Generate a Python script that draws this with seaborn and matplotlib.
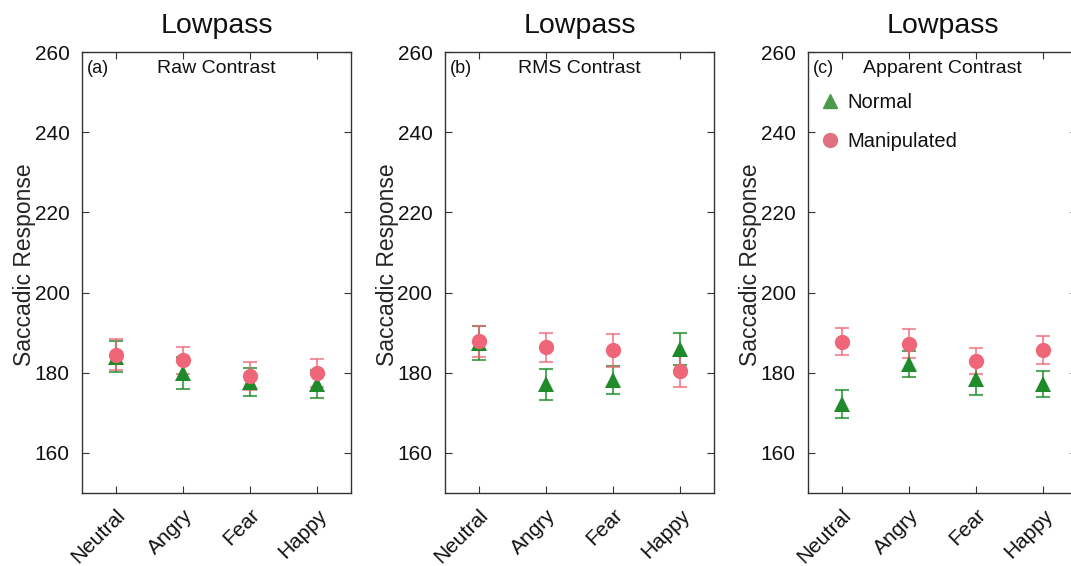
import numpy as np
import pandas as pd
import seaborn as sns
import matplotlib.pyplot as plt
from matplotlib.lines import Line2D

sns.set_style("ticks")
plt.rcParams.update({"font.family": ["Liberation Sans", "DejaVu Sans"],
                     "axes.edgecolor": "#333333",
                     "axes.linewidth": 1.0,
                     "text.color": "#111111",
                     "xtick.labelcolor": "#111111",
                     "ytick.labelcolor": "#111111"})

emotions = ["Neutral", "Angry", "Fear", "Happy"]
titles = ["Lowpass", "Lowpass", "Lowpass"]
panel_tags = ["(a)", "(b)", "(c)"]
panel_names = ["Raw Contrast", "RMS Contrast", "Apparent Contrast"]

# means and error bar half-widths
normal_mean = [[184.0, 180.0, 177.6, 177.2],
               [187.4, 177.1, 178.2, 185.9],
               [172.2, 182.2, 178.4, 177.2]]
normal_err = [[3.8, 4.0, 3.5, 3.6],
              [4.3, 3.9, 3.5, 3.9],
              [3.4, 3.2, 4.0, 3.3]]
manip_mean = [[184.5, 183.1, 179.2, 179.9],
              [187.8, 186.3, 185.6, 180.4],
              [187.7, 187.2, 183.0, 185.7]]
manip_err = [[3.9, 3.4, 3.4, 3.4],
             [3.9, 3.6, 4.1, 4.0],
             [3.4, 3.6, 3.2, 3.5]]

green = "#1f8a2a"
pink = "#ee6677"

fig = plt.figure(figsize=(10.71, 5.66), dpi=100)
lefts = [82, 445, 808]
axes = [fig.add_axes([l / 1071, 73 / 566, 269 / 1071, 441 / 566]) for l in lefts]

for i, ax in enumerate(axes):
    df = pd.DataFrame({
        "emotion": emotions * 2,
        "rt": normal_mean[i] + manip_mean[i],
        "cond": ["Normal"] * 4 + ["Manipulated"] * 4,
    })
    x = np.arange(len(emotions))
    ax.errorbar(x, normal_mean[i], yerr=normal_err[i], fmt="none", ecolor=green,
                alpha=0.75, capsize=4.7, elinewidth=1.5, capthick=1.5, zorder=2)
    ax.errorbar(x, manip_mean[i], yerr=manip_err[i], fmt="none", ecolor=pink,
                alpha=0.7, capsize=4.7, elinewidth=1.5, capthick=1.5, zorder=2)
    sns.pointplot(data=df, x="emotion", y="rt", hue="cond", order=emotions,
                  hue_order=["Normal", "Manipulated"], palette=[green, pink],
                  markers=["^", "o"], linestyle="none", errorbar=None,
                  markersize=11, dodge=False, legend=False, ax=ax)
    for ln in ax.lines:
        if ln.get_marker() in ("^", "o"):
            ln.set_zorder(3)
            ln.set_markeredgewidth(0)

    ax.set_xlim(-0.5, 3.5)
    ax.set_ylim(150, 260)
    ax.set_yticks([160, 180, 200, 220, 240, 260])
    ax.set_xlabel("")
    ax.set_ylabel("Saccadic Response", fontsize=16.5)
    ax.yaxis.set_label_coords(-0.17, 0.517)
    ax.set_title(titles[i], fontsize=20.5, pad=14)
    ax.tick_params(direction="in", top=True, right=True, length=5,
                   color="#333333", labelsize=15, pad=9)
    ax.set_xticks(x)
    ax.set_xticklabels(emotions, rotation=45, ha="right", rotation_mode="anchor")
    for s in ax.spines.values():
        s.set_visible(True)
    ax.text(0.017, 0.963, panel_tags[i], transform=ax.transAxes,
            fontsize=13, va="center", ha="left")
    ax.text(0.5, 0.963, panel_names[i], transform=ax.transAxes,
            fontsize=14, va="center", ha="center")

handles = [Line2D([], [], marker="^", color="#4a9a4a", linestyle="none", markersize=10),
           Line2D([], [], marker="o", color="#e07080", linestyle="none", markersize=10)]
axes[2].legend(handles, ["Normal", "Manipulated"], loc="upper left",
               bbox_to_anchor=(0.0, 0.935), frameon=False, fontsize=14.5,
               labelspacing=1.0, handletextpad=0.35, handlelength=1.0,
               borderaxespad=0.2)

fig.savefig("out.png", dpi=100)
